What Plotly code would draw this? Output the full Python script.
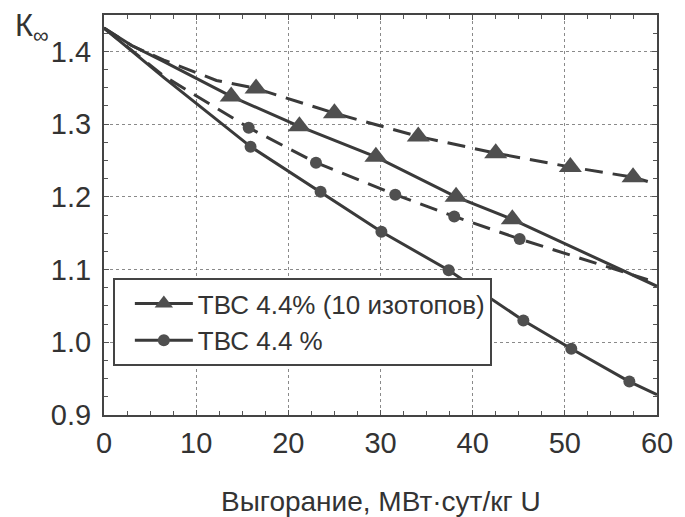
import plotly.graph_objects as go

# burnup (MW·day/kg U) and K-infinity values
tri_solid_x = [0, 3.0, 6.5, 13.8, 21.2, 29.5, 38.2, 44.3, 60]
tri_solid_y = [1.432, 1.408, 1.386, 1.338, 1.297, 1.255, 1.200, 1.169, 1.077]
tri_solid_marks = [3, 4, 5, 6, 7]

tri_dash_x = [0, 3.0, 6.5, 12.2, 16.5, 25.0, 34.1, 42.5, 50.6, 57.4, 59.0]
tri_dash_y = [1.432, 1.408, 1.388, 1.360, 1.349, 1.315, 1.283, 1.260, 1.241, 1.227, 1.221]
tri_dash_marks = [4, 5, 6, 7, 8, 9]

circ_solid_x = [0, 6.5, 15.9, 23.5, 30.1, 37.4, 45.5, 50.7, 57.0, 60]
circ_solid_y = [1.432, 1.364, 1.269, 1.207, 1.152, 1.099, 1.030, 0.991, 0.946, 0.928]
circ_solid_marks = [2, 3, 4, 5, 6, 7, 8]

circ_dash_x = [0, 6.5, 15.7, 23.0, 31.6, 38.0, 45.1, 59.0]
circ_dash_y = [1.432, 1.366, 1.295, 1.247, 1.203, 1.173, 1.142, 1.086]
circ_dash_marks = [2, 3, 4, 5, 6]

legend_names = ["ТВС 4.4% (10 изотопов)", "ТВС 4.4 %"]
x_ticks = [0, 10, 20, 30, 40, 50, 60]
y_ticks = [0.9, 1.0, 1.1, 1.2, 1.3, 1.4]

LINE = "#3a3a3a"
MARK = "#4f4f4f"
FONT = "Liberation Sans, Arial, sans-serif"
TXT = "#333333"

fig = go.Figure()

def add(x, y, marks, symbol, size, dash, name, show):
    fig.add_trace(go.Scatter(
        x=x, y=y, mode="lines+markers", name=name, showlegend=show,
        line=dict(color=LINE, width=3, dash=dash),
        marker=dict(symbol=symbol, size=size, color=MARK,
                    line=dict(width=0)),
        selectedpoints=marks,
        selected=dict(marker=dict(opacity=1)),
        unselected=dict(marker=dict(opacity=0)),
        hoverinfo="skip",
    ))

add(tri_dash_x, tri_dash_y, tri_dash_marks, "triangle-up", 20, "18px,10px", "", False)
add(circ_dash_x, circ_dash_y, circ_dash_marks, "circle", 12, "18px,10px", "", False)
add(tri_solid_x, tri_solid_y, tri_solid_marks, "triangle-up", 20, "solid", legend_names[0], True)
add(circ_solid_x, circ_solid_y, circ_solid_marks, "circle", 12, "solid", legend_names[1], True)

axis_common = dict(
    showline=True, mirror="allticks", linecolor="#444444", linewidth=2,
    ticks="inside", ticklen=5, tickcolor="#555555", tickwidth=1,
    showgrid=True, gridcolor="#8a8a8a", griddash="dot", gridwidth=1,
    zeroline=False,
    tickfont=dict(family=FONT, size=29, color=TXT),
)

fig.update_xaxes(range=[0, 60], tickvals=x_ticks, ticklabelstandoff=1,
                 minor=dict(dtick=2.5, ticks="inside", ticklen=4, tickcolor="#555555", showgrid=False),
                 **axis_common)
fig.update_yaxes(range=[0.9, 1.45], tickvals=y_ticks, tickformat=".1f", ticklabelstandoff=5,
                 minor=dict(dtick=0.025, ticks="inside", ticklen=4, tickcolor="#555555", showgrid=False),
                 **axis_common)

fig.add_annotation(text="Выгорание, МВт·сут/кг U", xref="paper", yref="paper",
                   x=0.5, y=-0.215, xanchor="center", yanchor="middle", showarrow=False,
                   font=dict(family=FONT, size=28, color=TXT))
fig.add_annotation(text="К", xref="paper", yref="paper",
                   x=-0.1454, y=0.9725, xanchor="center", yanchor="middle", showarrow=False,
                   font=dict(family=FONT, size=31, color=TXT))
fig.add_annotation(text="∞", xref="paper", yref="paper",
                   x=-0.1144, y=0.95, xanchor="center", yanchor="middle", showarrow=False,
                   font=dict(family=FONT, size=22, color=TXT))

fig.update_layout(
    width=685, height=517,
    margin=dict(l=104, r=17, t=15, b=102),
    paper_bgcolor="white", plot_bgcolor="white",
    legend=dict(x=0.016, y=0.3425, xanchor="left", yanchor="top",
                bgcolor="white", bordercolor="#444444", borderwidth=2,
                font=dict(family=FONT, size=26, color=TXT),
                itemwidth=58, indentation=15, tracegroupgap=0),
    font=dict(family=FONT, color=TXT),
)

fig.write_html("out.html")
